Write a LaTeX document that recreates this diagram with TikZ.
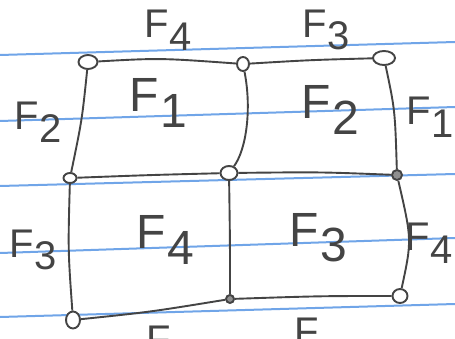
\documentclass[tikz,border=0pt]{standalone}
\usepackage{fontspec}
\setmainfont{Liberation Sans}
\usetikzlibrary{shapes.geometric}
\definecolor{ink}{RGB}{68,68,68}
\definecolor{ruleblue}{RGB}{112,165,232}
\newcommand\flbl[1]{F\kern0.03em\raisebox{-0.32em}{#1}}
\begin{document}
\begin{tikzpicture}[x=1pt,y=-1pt,
  vtx/.style={draw=ink, line width=1.9pt, ellipse, inner sep=0pt, fill=white},
  edge/.style={draw=ink, line width=1.9pt},
  paper/.style={draw=ruleblue, line width=2pt},
  lbl/.style={text=ink, font=\fontsize{40}{40}\selectfont, inner sep=0pt},
  big/.style={text=ink, font=\fontsize{48}{48}\selectfont, inner sep=0pt}]
\useasboundingbox (0,0) rectangle (455,339);
\fill[white] (0,0) rectangle (455,339);
% ruled paper
\draw[paper] (0,55) -- (455,42);
\draw[paper] (0,121) -- (455,107);
\draw[paper] (0,186) -- (455,174);
\draw[paper] (0,253) -- (455,238);
\draw[paper] (0,317) -- (455,304);
% vertices
\node[vtx, minimum width=19pt, minimum height=14pt] (tl) at (88,62) {};
\node[vtx, minimum width=12pt, minimum height=14pt] (tm) at (243,64) {};
\node[vtx, minimum width=22pt, minimum height=14pt] (tr) at (384,58) {};
\node[vtx, minimum width=13pt, minimum height=10pt] (ml) at (70,178) {};
\node[vtx, minimum width=17pt, minimum height=14pt] (mm) at (229,173) {};
\node[vtx, minimum width=10pt, minimum height=10pt, fill=ink!60] (mr) at (397,175) {};
\node[vtx, minimum width=14pt, minimum height=17pt] (bl) at (73,320) {};
\node[vtx, minimum width=8pt, minimum height=8pt, fill=ink!60] (bm) at (230,299) {};
\node[vtx, minimum width=15pt, minimum height=14pt] (br) at (400,296) {};
% edges
\draw[edge] (tl) .. controls (160,58) .. (tm);
\draw[edge] (tm) .. controls (310,60) .. (tr);
\draw[edge] (tl) .. controls (82,120) .. (ml);
\draw[edge] (tm) .. controls (252,110) and (246,150) .. (mm);
\draw[edge] (tr) .. controls (395,110) .. (mr);
\draw[edge] (ml) .. controls (150,175) .. (mm);
\draw[edge] (mm) .. controls (320,172) .. (mr);
\draw[edge] (ml) .. controls (68,250) .. (bl);
\draw[edge] (mm) .. controls (230,240) .. (bm);
\draw[edge] (mr) .. controls (412,240) .. (br);
\draw[edge] (bl) .. controls (150,312) .. (bm);
\draw[edge] (bm) .. controls (320,296) .. (br);
% labels
\node[lbl] (a1) at (168,30) {\flbl{4}};
\node[lbl] (a2) at (326,30) {\flbl{3}};
\node[lbl] (a3) at (38,122) {\flbl{2}};
\node[lbl] (a4) at (430,117) {\flbl{1}};
\node[lbl] (a5) at (33,250) {\flbl{3}};
\node[lbl] (a6) at (429,243) {\flbl{4}};
\node[big] (c1) at (158,103) {\flbl{1}};
\node[big] (c2) at (330,110) {\flbl{2}};
\node[big] (c3) at (165,240) {\flbl{4}};
\node[big] (c4) at (318,238) {\flbl{3}};
% labels cut off by the bottom edge, as in the reference
\node[lbl, anchor=north west] (d1) at (146,326) {F};
\node[lbl, anchor=north west] (d2) at (294,318) {F};
\end{tikzpicture}
\end{document}
